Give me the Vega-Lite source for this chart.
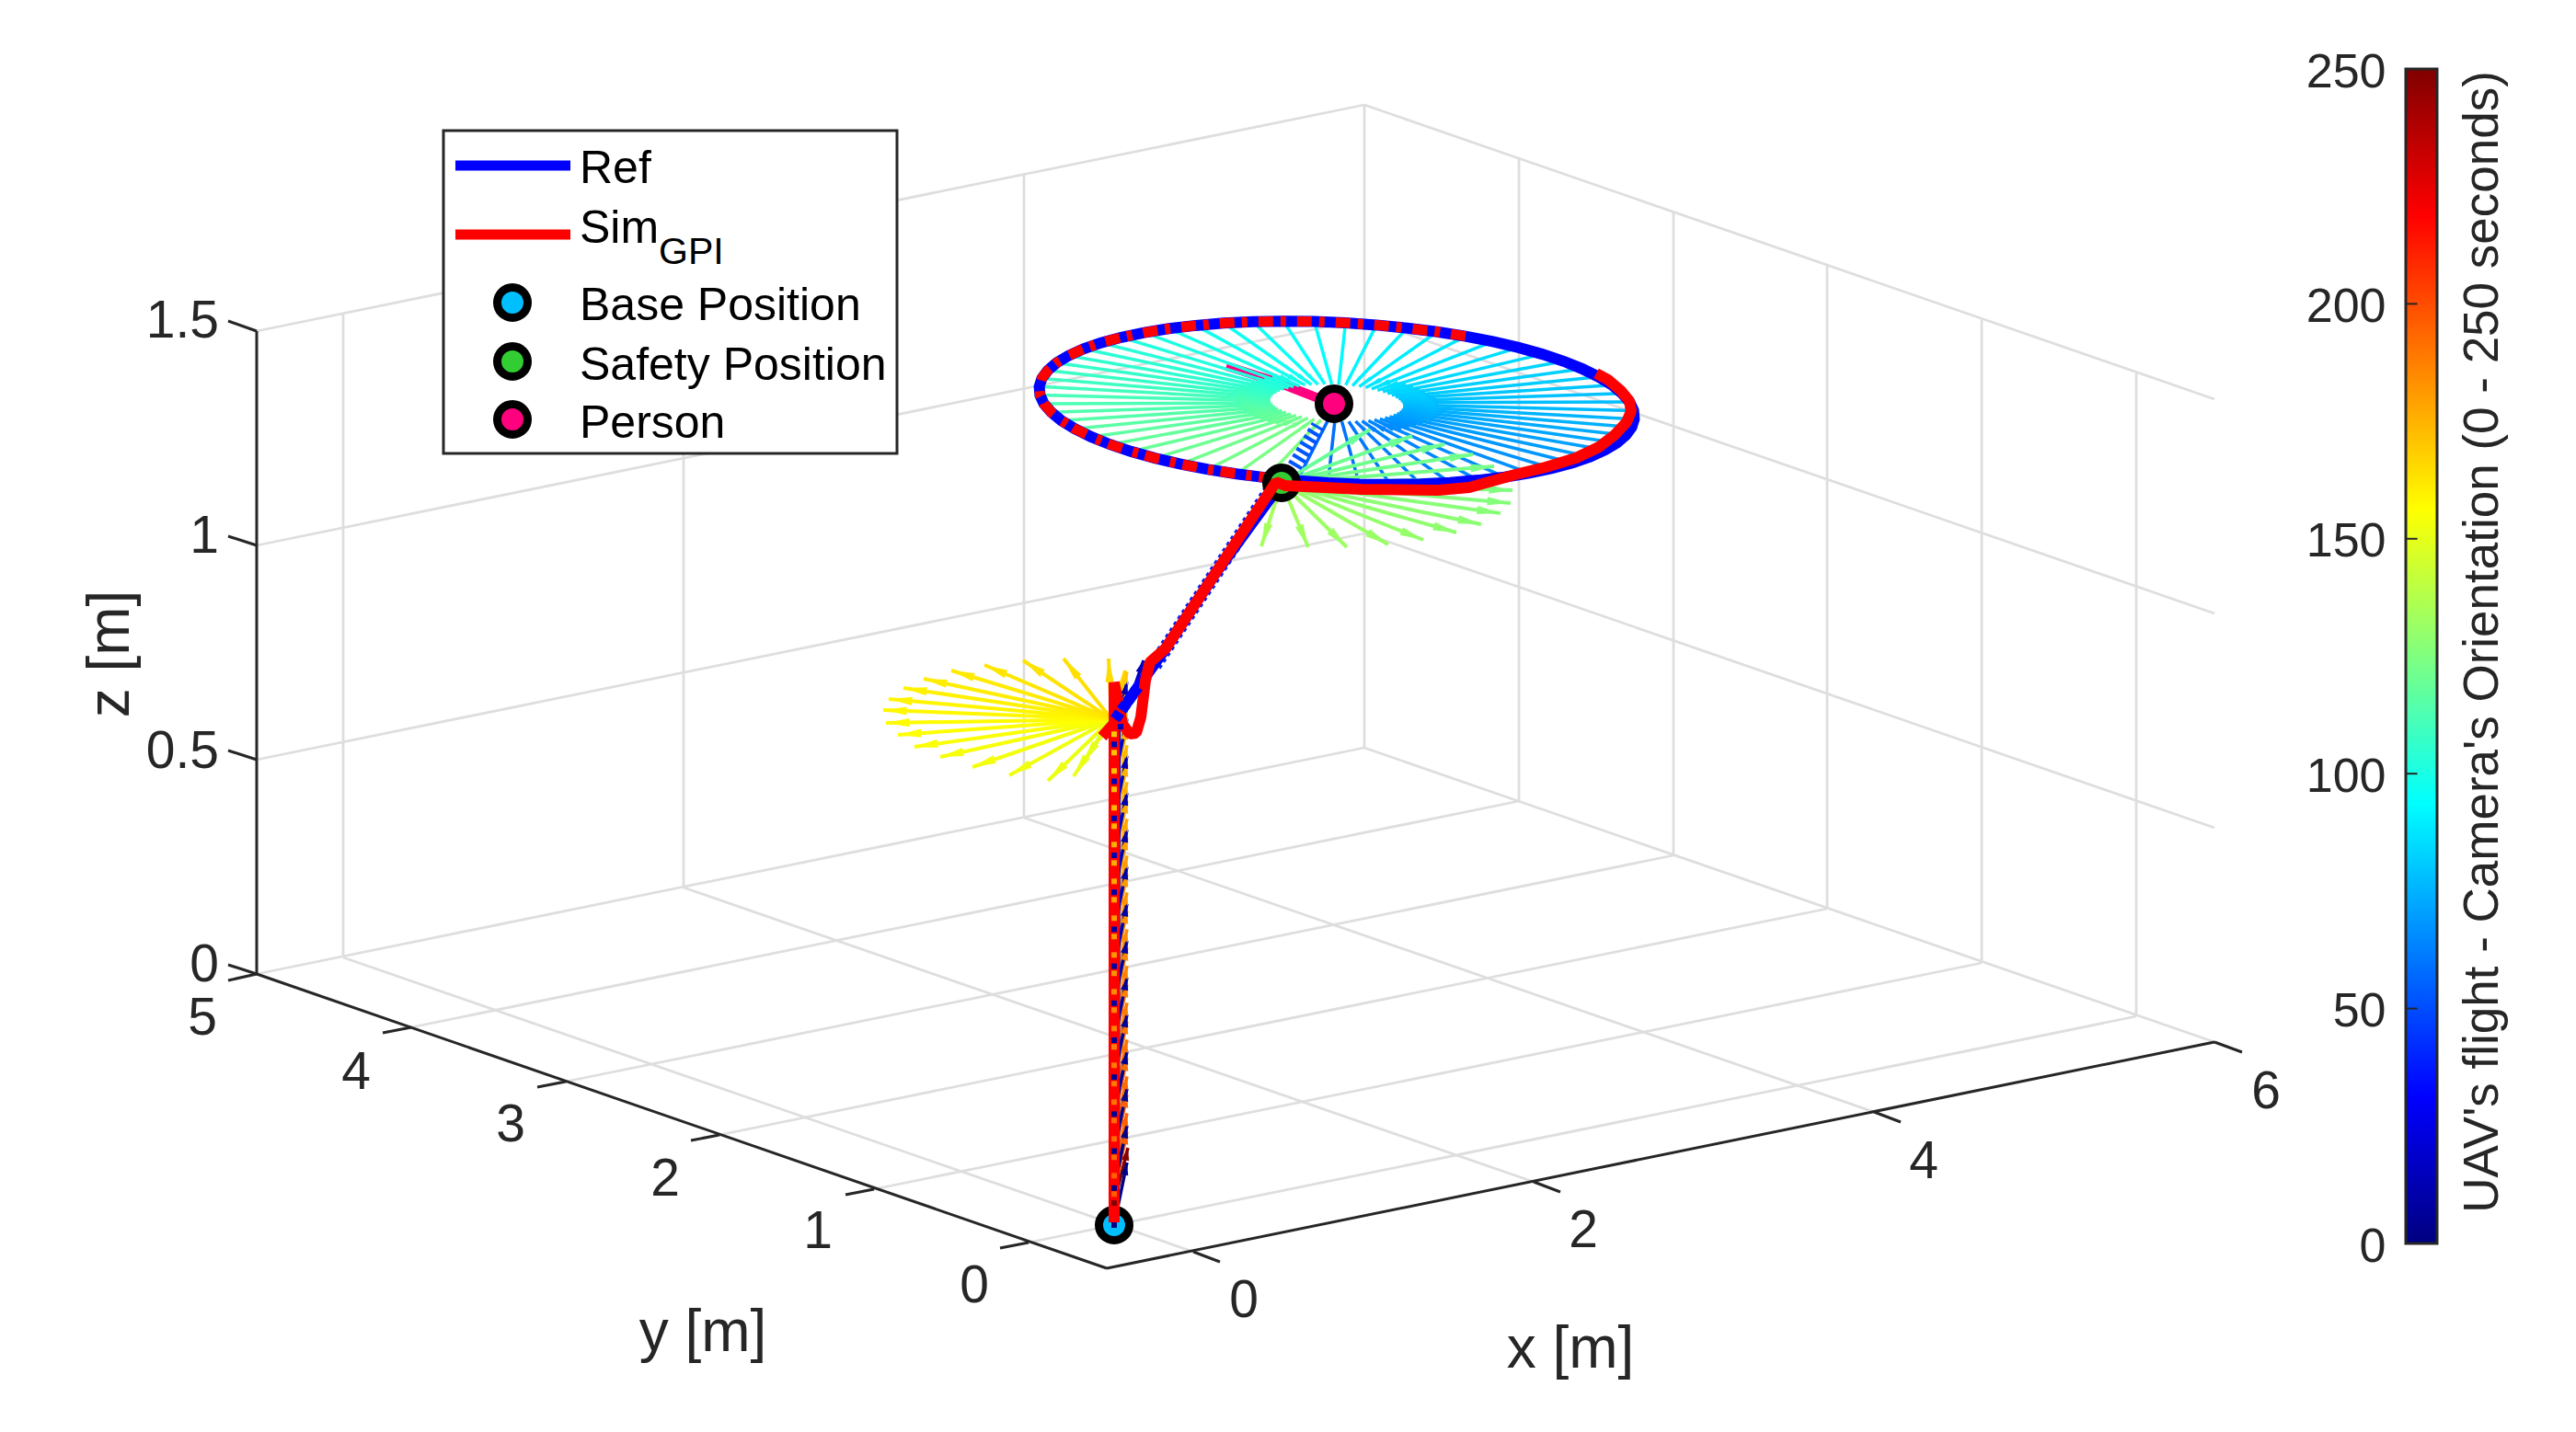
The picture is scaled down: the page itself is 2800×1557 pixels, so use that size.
{"$schema":"https://vega.github.io/schema/vega-lite/v6.json","width":2800,"height":1557,"padding":0,"autosize":{"type":"none"},"background":"white","config":{"view":{"stroke":null}},
"datasets":{
"grid":[{"u":1297,"v":1361,"u2":373,"v2":1041},{"u":1667,"v":1285,"u2":743,"v2":965},{"u":2037,"v":1209,"u2":1113,"v2":889},{"u":1118,"v":1351,"u2":2322,"v2":1105},{"u":950,"v":1293,"u2":2154,"v2":1047},{"u":782,"v":1234,"u2":1986,"v2":988},{"u":615,"v":1176,"u2":1819,"v2":930},{"u":447,"v":1117,"u2":1651,"v2":871},{"u":279,"v":1059,"u2":1483,"v2":813},{"u":1483,"v":813,"u2":2407,"v2":1133},{"u":279,"v":826,"u2":1483,"v2":580},{"u":1483,"v":580,"u2":2407,"v2":900},{"u":279,"v":593,"u2":1483,"v2":347},{"u":1483,"v":347,"u2":2407,"v2":667},{"u":279,"v":360,"u2":1483,"v2":114},{"u":1483,"v":114,"u2":2407,"v2":434},{"u":373,"v":1041,"u2":373,"v2":342},{"u":743,"v":965,"u2":743,"v2":266},{"u":1113,"v":889,"u2":1113,"v2":190},{"u":1483,"v":813,"u2":1483,"v2":114},{"u":1651,"v":871,"u2":1651,"v2":172},{"u":1819,"v":930,"u2":1819,"v2":231},{"u":1986,"v":988,"u2":1986,"v2":289},{"u":2154,"v":1047,"u2":2154,"v2":348},{"u":2322,"v":1105,"u2":2322,"v2":406}],
"axes":[{"u":1203,"v":1379,"u2":2407,"v2":1133},{"u":1203,"v":1379,"u2":279,"v2":1059},{"u":279,"v":1059,"u2":279,"v2":360},{"u":1297,"v":1361,"u2":1326,"v2":1372},{"u":1667,"v":1285,"u2":1696,"v2":1296},{"u":2037,"v":1209,"u2":2066,"v2":1220},{"u":2407,"v":1133,"u2":2437,"v2":1144},{"u":1118,"v":1351,"u2":1087,"v2":1357},{"u":950,"v":1293,"u2":919,"v2":1299},{"u":782,"v":1234,"u2":751,"v2":1240},{"u":615,"v":1176,"u2":584,"v2":1182},{"u":447,"v":1117,"u2":416,"v2":1123},{"u":279,"v":1059,"u2":248,"v2":1066},{"u":279,"v":1059,"u2":248,"v2":1049},{"u":279,"v":826,"u2":248,"v2":816},{"u":279,"v":593,"u2":248,"v2":583},{"u":279,"v":360,"u2":248,"v2":349}],
"labels":[{"text":"0","u":1352,"v":1415,"kind":"tick"},{"text":"2","u":1721,"v":1339,"kind":"tick"},{"text":"4","u":2091,"v":1264,"kind":"tick"},{"text":"6","u":2463,"v":1188,"kind":"tick"},{"text":"0","u":1059,"v":1399,"kind":"tick"},{"text":"1","u":889,"v":1340,"kind":"tick"},{"text":"2","u":723,"v":1283,"kind":"tick"},{"text":"3","u":555,"v":1224,"kind":"tick"},{"text":"4","u":387,"v":1167,"kind":"tick"},{"text":"5","u":220,"v":1108,"kind":"tick"},{"text":"0","u":238,"v":1050,"kind":"ztick"},{"text":"0.5","u":238,"v":818,"kind":"ztick"},{"text":"1","u":238,"v":584,"kind":"ztick"},{"text":"1.5","u":238,"v":350,"kind":"ztick"},{"text":"x [m]","u":1707,"v":1468,"kind":"title"},{"text":"y [m]","u":764,"v":1450,"kind":"title"},{"text":"z [m]","u":121,"v":711,"kind":"ztitle"},{"text":"UAV's flight - Camera's Orientation (0 - 250 seconds)","u":2715,"v":698,"kind":"cbtitle"},{"text":"Ref","u":630,"v":199,"kind":"legend"},{"text":"Sim","u":630,"v":264,"kind":"legend"},{"text":"GPI","u":716,"v":287,"kind":"sub"},{"text":"Base Position","u":630,"v":348,"kind":"legend"},{"text":"Safety Position","u":630,"v":413,"kind":"legend"},{"text":"Person","u":630,"v":476,"kind":"legend"}],
"personTrack":[{"k":0,"u":1333,"v":398},{"k":1,"u":1387,"v":415},{"k":2,"u":1433,"v":433}],
"markers":[{"name":"Base Position","u":1211,"v":1332,"place":"under"},{"name":"Safety Position","u":1393,"v":525,"place":"under"},{"name":"Person","u":1450,"v":439,"place":"over"},{"name":"Base Position","u":557,"v":329,"place":"legend"},{"name":"Safety Position","u":557,"v":393,"place":"legend"},{"name":"Person","u":557,"v":456,"place":"legend"}],
"legendBox":[{"u":482,"v":142,"u2":975,"v2":493}],
"legendLines":[{"series":"Ref","u":495,"v":180,"u2":620,"v2":180},{"series":"Sim GPI","u":495,"v":255,"u2":620,"v2":255}],
"ring":[
{"k":0,"u":1443.3,"v":457.3,"u2":1409.9,"v2":522.6,"t":57,"len":76,"angle":26.6},{"k":1,"u":1450.9,"v":457.8,"u2":1443.5,"v2":524.9,"t":58.2,"len":71,"angle":6.1},{"k":2,"u":1458.5,"v":458.2,"u2":1477.4,"v2":526.4,"t":59.3,"len":74,"angle":344.9},{"k":3,"u":1466,"v":458.2,"u2":1511,"v2":526.7,"t":60.5,"len":85,"angle":327.3},{"k":4,"u":1473.4,"v":458.1,"u2":1544,"v2":526.2,"t":61.6,"len":101,"angle":314.6},{"k":5,"u":1480.5,"v":457.8,"u2":1576,"v2":524.7,"t":62.8,"len":120,"angle":305.7},{"k":6,"u":1487.4,"v":457.2,"u2":1606.4,"v2":522.1,"t":63.9,"len":140,"angle":299.2},{"k":7,"u":1493.9,"v":456.4,"u2":1635.5,"v2":518.7,"t":65.1,"len":159,"angle":294.2},{"k":8,"u":1499.9,"v":455.4,"u2":1662.3,"v2":514.3,"t":66.2,"len":177,"angle":290.4},{"k":9,"u":1505.4,"v":454.2,"u2":1687.1,"v2":509.2,"t":67.4,"len":195,"angle":287.2},
{"k":10,"u":1510.4,"v":452.9,"u2":1709.2,"v2":503.3,"t":68.5,"len":210,"angle":284.5},{"k":11,"u":1514.7,"v":451.4,"u2":1728.3,"v2":496.7,"t":69.7,"len":224,"angle":282.2},{"k":12,"u":1518.3,"v":449.7,"u2":1744.6,"v2":489.3,"t":70.8,"len":235,"angle":280.2},{"k":13,"u":1521.2,"v":447.9,"u2":1757.4,"v2":481.6,"t":72,"len":244,"angle":278.3},{"k":14,"u":1523.4,"v":446,"u2":1767.2,"v2":473.2,"t":73.1,"len":251,"angle":276.5},{"k":15,"u":1524.8,"v":444.1,"u2":1773.6,"v2":464.6,"t":74.3,"len":256,"angle":274.8},{"k":16,"u":1525.4,"v":442,"u2":1776.4,"v2":455.7,"t":75.4,"len":257,"angle":273.2},{"k":17,"u":1525.3,"v":439.9,"u2":1775.6,"v2":446.4,"t":76.6,"len":256,"angle":271.5},{"k":18,"u":1524.3,"v":437.8,"u2":1771.3,"v2":437.1,"t":77.7,"len":253,"angle":269.8},{"k":19,"u":1522.5,"v":435.7,"u2":1763.3,"v2":427.8,"t":78.9,"len":247,"angle":268.1},
{"k":20,"u":1520.1,"v":433.6,"u2":1752.3,"v2":418.7,"t":80,"len":238,"angle":266.2},{"k":21,"u":1516.8,"v":431.6,"u2":1737.7,"v2":409.8,"t":81.2,"len":227,"angle":264.2},{"k":22,"u":1512.8,"v":429.6,"u2":1720,"v2":401.1,"t":82.3,"len":214,"angle":262},{"k":23,"u":1508.2,"v":427.7,"u2":1699.6,"v2":392.8,"t":83.5,"len":199,"angle":259.4},{"k":24,"u":1503.1,"v":425.9,"u2":1676.4,"v2":385.1,"t":84.6,"len":182,"angle":256.5},{"k":25,"u":1497.3,"v":424.3,"u2":1650.6,"v2":377.9,"t":85.8,"len":164,"angle":252.8},{"k":26,"u":1491,"v":422.8,"u2":1622.7,"v2":371.4,"t":86.9,"len":145,"angle":248.2},{"k":27,"u":1484.4,"v":421.5,"u2":1592.9,"v2":365.6,"t":88.1,"len":126,"angle":242.2},{"k":28,"u":1477.4,"v":420.4,"u2":1562,"v2":360.8,"t":89.2,"len":107,"angle":234.2},{"k":29,"u":1470.1,"v":419.5,"u2":1529.5,"v2":356.7,"t":90.4,"len":89,"angle":222.7},
{"k":30,"u":1462.7,"v":418.7,"u2":1496.1,"v2":353.4,"t":91.5,"len":76,"angle":206.6},{"k":31,"u":1455.1,"v":418.2,"u2":1462.5,"v2":351.1,"t":92.7,"len":71,"angle":186.1},{"k":32,"u":1447.5,"v":417.8,"u2":1428.6,"v2":349.6,"t":93.8,"len":74,"angle":164.9},{"k":33,"u":1440,"v":417.8,"u2":1395,"v2":349.3,"t":95,"len":85,"angle":147.3},{"k":34,"u":1432.6,"v":417.9,"u2":1362,"v2":349.8,"t":96.1,"len":101,"angle":134.6},{"k":35,"u":1425.5,"v":418.2,"u2":1330,"v2":351.3,"t":97.3,"len":120,"angle":125.7},{"k":36,"u":1418.6,"v":418.8,"u2":1299.6,"v2":353.9,"t":98.4,"len":140,"angle":119.2},{"k":37,"u":1412.1,"v":419.6,"u2":1270.5,"v2":357.3,"t":99.6,"len":159,"angle":114.2},{"k":38,"u":1406.1,"v":420.6,"u2":1243.7,"v2":361.7,"t":100.7,"len":177,"angle":110.4},{"k":39,"u":1400.6,"v":421.8,"u2":1218.9,"v2":366.8,"t":101.9,"len":195,"angle":107.2},
{"k":40,"u":1395.6,"v":423.1,"u2":1196.8,"v2":372.7,"t":103,"len":210,"angle":104.5},{"k":41,"u":1391.3,"v":424.6,"u2":1177.7,"v2":379.3,"t":104.2,"len":224,"angle":102.2},{"k":42,"u":1387.7,"v":426.3,"u2":1161.4,"v2":386.7,"t":105.3,"len":235,"angle":100.2},{"k":43,"u":1384.8,"v":428.1,"u2":1148.6,"v2":394.4,"t":106.5,"len":244,"angle":98.3},{"k":44,"u":1382.6,"v":430,"u2":1138.8,"v2":402.8,"t":107.6,"len":251,"angle":96.5},{"k":45,"u":1381.2,"v":431.9,"u2":1132.4,"v2":411.4,"t":108.8,"len":256,"angle":94.8},{"k":46,"u":1380.6,"v":434,"u2":1129.6,"v2":420.3,"t":109.9,"len":257,"angle":93.2},{"k":47,"u":1380.7,"v":436.1,"u2":1130.4,"v2":429.6,"t":111.1,"len":256,"angle":91.5},{"k":48,"u":1381.7,"v":438.2,"u2":1134.7,"v2":438.9,"t":112.2,"len":253,"angle":89.8},{"k":49,"u":1383.5,"v":440.3,"u2":1142.7,"v2":448.2,"t":113.4,"len":247,"angle":88.1},
{"k":50,"u":1385.9,"v":442.4,"u2":1153.7,"v2":457.3,"t":114.5,"len":238,"angle":86.2},{"k":51,"u":1389.2,"v":444.4,"u2":1168.3,"v2":466.2,"t":115.7,"len":227,"angle":84.2},{"k":52,"u":1393.2,"v":446.4,"u2":1186,"v2":474.9,"t":116.8,"len":214,"angle":82},{"k":53,"u":1397.8,"v":448.3,"u2":1206.4,"v2":483.2,"t":118,"len":199,"angle":79.4},{"k":54,"u":1402.9,"v":450.1,"u2":1229.6,"v2":490.9,"t":119.1,"len":182,"angle":76.5},{"k":55,"u":1408.7,"v":451.7,"u2":1255.4,"v2":498.1,"t":120.3,"len":164,"angle":72.8},{"k":56,"u":1415,"v":453.2,"u2":1283.3,"v2":504.6,"t":121.4,"len":145,"angle":68.2},{"k":57,"u":1421.6,"v":454.5,"u2":1313.1,"v2":510.4,"t":122.6,"len":126,"angle":62.2},{"k":58,"u":1428.6,"v":455.6,"u2":1344,"v2":515.2,"t":123.7,"len":107,"angle":54.2},{"k":59,"u":1435.9,"v":456.5,"u2":1376.5,"v2":519.3,"t":124.9,"len":89,"angle":42.7}],
"fan":[
{"u":1489,"v":467,"u2":1393,"v2":525,"t":119,"angle":58.9},{"u":1535,"v":474,"u2":1393,"v2":525,"t":120,"angle":70.2},{"u":1570,"v":483,"u2":1393,"v2":525,"t":121,"angle":76.7},{"u":1601,"v":494,"u2":1393,"v2":525,"t":122,"angle":81.5},{"u":1624,"v":507,"u2":1393,"v2":525,"t":123,"angle":85.5},{"u":1638,"v":520,"u2":1393,"v2":525,"t":124,"angle":88.8},{"u":1644,"v":533,"u2":1393,"v2":525,"t":125,"angle":91.8},{"u":1642,"v":547,"u2":1393,"v2":525,"t":126,"angle":95},{"u":1631,"v":558,"u2":1393,"v2":525,"t":127,"angle":97.9},{"u":1610,"v":570,"u2":1393,"v2":525,"t":128,"angle":101.7},{"u":1583,"v":579,"u2":1393,"v2":525,"t":129,"angle":105.9},{"u":1547,"v":587,"u2":1393,"v2":525,"t":130,"angle":111.9},{"u":1509,"v":592,"u2":1393,"v2":525,"t":131,"angle":120},{"u":1464,"v":595,"u2":1393,"v2":525,"t":132,"angle":134.6},{"u":1422,"v":595,"u2":1393,"v2":525,"t":133,"angle":157.5},{"u":1371,"v":594,"u2":1393,"v2":525,"t":134,"angle":197.7},
{"u":1195,"v":800,"u2":1208,"v2":782,"t":148,"angle":215.8},{"u":1187,"v":815,"u2":1208,"v2":782,"t":149,"angle":212.5},{"u":1177,"v":830,"u2":1208,"v2":782,"t":150,"angle":212.9},{"u":1167,"v":844,"u2":1208,"v2":782,"t":150.8,"angle":213.5},{"u":1139,"v":849,"u2":1208,"v2":782,"t":151.6,"angle":225.8},{"u":1097,"v":843,"u2":1208,"v2":782,"t":152.5,"angle":241.2},{"u":1057,"v":834,"u2":1208,"v2":782,"t":153.4,"angle":251},{"u":1022,"v":823,"u2":1208,"v2":782,"t":154.3,"angle":257.6},{"u":994,"v":812,"u2":1208,"v2":782,"t":155.2,"angle":262},{"u":976,"v":799,"u2":1208,"v2":782,"t":156,"angle":265.8},{"u":963,"v":786,"u2":1208,"v2":782,"t":157,"angle":269.1},{"u":960,"v":772,"u2":1208,"v2":782,"t":157.9,"angle":272.3},{"u":966,"v":760,"u2":1208,"v2":782,"t":158.8,"angle":275.2},{"u":982,"v":748,"u2":1208,"v2":782,"t":159.7,"angle":278.6},{"u":1004,"v":738,"u2":1208,"v2":782,"t":160.6,"angle":282.2},{"u":1034,"v":729,"u2":1208,"v2":782,"t":161.5,"angle":286.9},{"u":1070,"v":723,"u2":1208,"v2":782,"t":162.4,"angle":293.1},{"u":1112,"v":718,"u2":1208,"v2":782,"t":163.3,"angle":303.7},{"u":1156,"v":716,"u2":1208,"v2":782,"t":164.2,"angle":321.8},{"u":1205,"v":716,"u2":1208,"v2":782,"t":165.1,"angle":357.4},{"u":1223,"v":729,"u2":1208,"v2":782,"t":166,"angle":15.8}],
"stack":[
{"u":1226,"v":1248,"u2":1211,"v2":1308,"t":249,"angle":11.6},
{"u":1225,"v":1230.3,"u2":1211,"v2":1298.3,"t":196,"angle":11.6},{"u":1225,"v":1210.3,"u2":1211,"v2":1278.3,"t":195,"angle":11.6},{"u":1225,"v":1190.3,"u2":1211,"v2":1258.3,"t":193.9,"angle":11.6},{"u":1225,"v":1170.3,"u2":1211,"v2":1238.3,"t":192.9,"angle":11.6},{"u":1225,"v":1150.3,"u2":1211,"v2":1218.3,"t":191.8,"angle":11.6},{"u":1225,"v":1130.3,"u2":1211,"v2":1198.3,"t":190.8,"angle":11.6},{"u":1225,"v":1110.3,"u2":1211,"v2":1178.3,"t":189.7,"angle":11.6},{"u":1225,"v":1090.3,"u2":1211,"v2":1158.3,"t":188.7,"angle":11.6},{"u":1225,"v":1070.3,"u2":1211,"v2":1138.3,"t":187.6,"angle":11.6},{"u":1225,"v":1050.3,"u2":1211,"v2":1118.3,"t":186.6,"angle":11.6},{"u":1225,"v":1030.3,"u2":1211,"v2":1098.3,"t":185.5,"angle":11.6},{"u":1225,"v":1010.3,"u2":1211,"v2":1078.3,"t":184.5,"angle":11.6},{"u":1225,"v":990.3,"u2":1211,"v2":1058.3,"t":183.4,"angle":11.6},{"u":1225,"v":970.3,"u2":1211,"v2":1038.3,"t":182.4,"angle":11.6},{"u":1225,"v":950.3,"u2":1211,"v2":1018.3,"t":181.3,"angle":11.6},{"u":1225,"v":930.3,"u2":1211,"v2":998.3,"t":180.3,"angle":11.6},{"u":1225,"v":910.3,"u2":1211,"v2":978.3,"t":179.2,"angle":11.6},{"u":1225,"v":890.3,"u2":1211,"v2":958.3,"t":178.2,"angle":11.6},{"u":1225,"v":870.3,"u2":1211,"v2":938.3,"t":177.1,"angle":11.6},{"u":1225,"v":850.3,"u2":1211,"v2":918.3,"t":176.1,"angle":11.6},{"u":1225,"v":830.3,"u2":1211,"v2":898.3,"t":175,"angle":11.6},{"u":1225,"v":810.3,"u2":1211,"v2":878.3,"t":174,"angle":11.6},{"u":1225,"v":790.3,"u2":1211,"v2":858.3,"t":172.9,"angle":11.6},{"u":1225,"v":770.3,"u2":1211,"v2":838.3,"t":171.9,"angle":11.6},{"u":1225,"v":750.3,"u2":1211,"v2":818.3,"t":170.8,"angle":11.6},{"u":1225,"v":730.3,"u2":1211,"v2":798.3,"t":169.8,"angle":11.6},
{"u":1225,"v":1264,"u2":1211,"v2":1332,"t":1,"angle":11.6},{"u":1225,"v":1223.8,"u2":1211,"v2":1291.8,"t":2,"angle":11.6},{"u":1225,"v":1183.6,"u2":1211,"v2":1251.6,"t":3,"angle":11.6},{"u":1225,"v":1143.4,"u2":1211,"v2":1211.4,"t":4,"angle":11.6},{"u":1225,"v":1103.2,"u2":1211,"v2":1171.2,"t":5,"angle":11.6},{"u":1225,"v":1063,"u2":1211,"v2":1131,"t":6,"angle":11.6},{"u":1225,"v":1022.8,"u2":1211,"v2":1090.8,"t":7,"angle":11.6},{"u":1225,"v":982.6,"u2":1211,"v2":1050.6,"t":8,"angle":11.6},{"u":1225,"v":942.4,"u2":1211,"v2":1010.4,"t":9,"angle":11.6},{"u":1225,"v":902.2,"u2":1211,"v2":970.2,"t":10,"angle":11.6},{"u":1225,"v":862,"u2":1211,"v2":930,"t":11,"angle":11.6},{"u":1225,"v":821.8,"u2":1211,"v2":889.8,"t":12,"angle":11.6},{"u":1225,"v":781.6,"u2":1211,"v2":849.6,"t":13,"angle":11.6},{"u":1225,"v":741.4,"u2":1211,"v2":809.4,"t":14,"angle":11.6},{"u":1243,"v":718,"u2":1218,"v2":790,"t":15,"angle":19}],
"trains":[{"u":1255,"v":723,"u2":1387,"v2":524,"t":40},{"u":1407,"v":507,"u2":1433,"v2":463,"t":52}],
"ref":[{"k":-20,"u":1211,"v":1332},{"k":-19,"u":1212,"v":790},{"k":-18,"u":1212,"v":782},{"k":-17,"u":1237,"v":747},{"k":-16,"u":1267,"v":705},{"k":-15,"u":1320,"v":625},{"k":-14,"u":1393,"v":525},
{"k":0,"u":1409.9,"v":522.6},{"k":1,"u":1443.5,"v":524.9},{"k":2,"u":1477.4,"v":526.4},{"k":3,"u":1511,"v":526.7},{"k":4,"u":1544,"v":526.2},{"k":5,"u":1576,"v":524.7},{"k":6,"u":1606.4,"v":522.1},{"k":7,"u":1635.5,"v":518.7},{"k":8,"u":1662.3,"v":514.3},{"k":9,"u":1687.1,"v":509.2},{"k":10,"u":1709.2,"v":503.3},{"k":11,"u":1728.3,"v":496.7},{"k":12,"u":1744.6,"v":489.3},{"k":13,"u":1757.4,"v":481.6},{"k":14,"u":1767.2,"v":473.2},{"k":15,"u":1773.6,"v":464.6},{"k":16,"u":1776.4,"v":455.7},{"k":17,"u":1775.6,"v":446.4},{"k":18,"u":1771.3,"v":437.1},{"k":19,"u":1763.3,"v":427.8},{"k":20,"u":1752.3,"v":418.7},{"k":21,"u":1737.7,"v":409.8},{"k":22,"u":1720,"v":401.1},{"k":23,"u":1699.6,"v":392.8},{"k":24,"u":1676.4,"v":385.1},{"k":25,"u":1650.6,"v":377.9},{"k":26,"u":1622.7,"v":371.4},{"k":27,"u":1592.9,"v":365.6},{"k":28,"u":1562,"v":360.8},{"k":29,"u":1529.5,"v":356.7},{"k":30,"u":1496.1,"v":353.4},{"k":31,"u":1462.5,"v":351.1},{"k":32,"u":1428.6,"v":349.6},{"k":33,"u":1395,"v":349.3},{"k":34,"u":1362,"v":349.8},{"k":35,"u":1330,"v":351.3},{"k":36,"u":1299.6,"v":353.9},{"k":37,"u":1270.5,"v":357.3},{"k":38,"u":1243.7,"v":361.7},{"k":39,"u":1218.9,"v":366.8},{"k":40,"u":1196.8,"v":372.7},{"k":41,"u":1177.7,"v":379.3},{"k":42,"u":1161.4,"v":386.7},{"k":43,"u":1148.6,"v":394.4},{"k":44,"u":1138.8,"v":402.8},{"k":45,"u":1132.4,"v":411.4},{"k":46,"u":1129.6,"v":420.3},{"k":47,"u":1130.4,"v":429.6},{"k":48,"u":1134.7,"v":438.9},{"k":49,"u":1142.7,"v":448.2},{"k":50,"u":1153.7,"v":457.3},{"k":51,"u":1168.3,"v":466.2},{"k":52,"u":1186,"v":474.9},{"k":53,"u":1206.4,"v":483.2},{"k":54,"u":1229.6,"v":490.9},{"k":55,"u":1255.4,"v":498.1},{"k":56,"u":1283.3,"v":504.6},{"k":57,"u":1313.1,"v":510.4},{"k":58,"u":1344,"v":515.2},{"k":59,"u":1376.5,"v":519.3},{"k":60,"u":1393,"v":523}],
"sim":[{"seg":"a","k":0,"u":1211,"v":1329},{"seg":"a","k":1,"u":1211,"v":742},{"seg":"a","k":2,"u":1220,"v":787},{"seg":"a","k":3,"u":1228,"v":798},{"seg":"a","k":4,"u":1235,"v":797},{"seg":"a","k":5,"u":1240,"v":780},{"seg":"a","k":6,"u":1245,"v":740},{"seg":"a","k":7,"u":1250,"v":720},{"seg":"a","k":8,"u":1267,"v":705},{"seg":"a","k":9,"u":1320,"v":625},{"seg":"a","k":10,"u":1387,"v":524},{"seg":"a","k":11,"u":1397,"v":528},{"seg":"a","k":12,"u":1480,"v":532},{"seg":"a","k":13,"u":1563,"v":533},{"seg":"a","k":14,"u":1597,"v":530},{"seg":"a","k":15,"u":1647,"v":516},{"seg":"a","k":16,"u":1680,"v":508},{"seg":"a","k":17,"u":1713,"v":498},{"seg":"a","k":18,"u":1738,"v":486},{"seg":"a","k":19,"u":1755,"v":473},{"seg":"a","k":20,"u":1768,"v":459},{"seg":"a","k":21,"u":1773,"v":447},{"seg":"a","k":22,"u":1771,"v":436},{"seg":"a","k":23,"u":1762,"v":425},{"seg":"a","k":24,"u":1748,"v":413},{"seg":"a","k":25,"u":1735,"v":406},{"seg":"b","k":0,"u":1198,"v":801},{"seg":"b","k":1,"u":1216,"v":781}],
"refTop":[{"u":1212,"v":782,"u2":1237,"v2":747}],
"colorbar":[{"from":0,"to":250,"left":0,"right":1}],
"cbTicks":[{"val":50,"left":0,"right":0.37},{"val":100,"left":0,"right":0.37},{"val":150,"left":0,"right":0.37},{"val":200,"left":0,"right":0.37}]
},
"layer":[
{"encoding":{"x":{"field":"u","type":"quantitative","scale":{"domain":[0,2800],"nice":false,"zero":false},"axis":null},"y":{"field":"v","type":"quantitative","scale":{"domain":[1557,0],"nice":false,"zero":false},"axis":null}},
"layer":[
{"data":{"name":"grid"},"mark":{"type":"rule","color":"#dedede","strokeWidth":2.8},"encoding":{"x2":{"field":"u2"},"y2":{"field":"v2"}}},
{"data":{"name":"axes"},"mark":{"type":"rule","color":"#262626","strokeWidth":3},"encoding":{"x2":{"field":"u2"},"y2":{"field":"v2"}}},
{"data":{"name":"labels"},"transform":[{"filter":"datum.kind=='tick'"}],"mark":{"type":"text","font":"Liberation Sans","fontSize":57,"color":"#262626","align":"center","baseline":"middle"},"encoding":{"text":{"field":"text"}}},
{"data":{"name":"labels"},"transform":[{"filter":"datum.kind=='ztick'"}],"mark":{"type":"text","font":"Liberation Sans","fontSize":57,"color":"#262626","align":"right","baseline":"middle"},"encoding":{"text":{"field":"text"}}},
{"data":{"name":"labels"},"transform":[{"filter":"datum.kind=='title'"}],"mark":{"type":"text","font":"Liberation Sans","fontSize":64,"color":"#262626","align":"center","baseline":"middle"},"encoding":{"text":{"field":"text"}}},
{"data":{"name":"labels"},"transform":[{"filter":"datum.kind=='ztitle'"}],"mark":{"type":"text","font":"Liberation Sans","fontSize":64,"color":"#262626","align":"center","baseline":"middle","angle":270},"encoding":{"text":{"field":"text"}}},
{"data":{"name":"labels"},"transform":[{"filter":"datum.kind=='cbtitle'"}],"mark":{"type":"text","font":"Liberation Sans","fontSize":53,"color":"#262626","align":"center","baseline":"alphabetic","angle":270},"encoding":{"text":{"field":"text"}}},
{"data":{"name":"personTrack"},"mark":{"type":"line","color":"#ff007f","strokeWidth":10},"encoding":{"order":{"field":"k"}}},
{"data":{"name":"ring"},"mark":{"type":"rule","strokeWidth":3.5},"encoding":{"x2":{"field":"u2"},"y2":{"field":"v2"},"color":{"field":"t","type":"quantitative","scale":{"domain":[0,31.25,93.75,156.25,218.75,250],"range":["#000080","#0000ff","#00ffff","#ffff00","#ff0000","#800000"],"interpolate":"rgb"},"legend":null}}},
{"data":{"name":"ring"},"mark":{"type":"point","filled":true,"opacity":1,"shape":"M0,0L-0.3,2L0.3,2Z"},"encoding":{"angle":{"field":"angle","type":"quantitative","scale":null},"size":{"field":"len","type":"quantitative","scale":{"type":"pow","exponent":2,"domain":[0,250],"range":[0,1296]},"legend":null},"color":{"field":"t","type":"quantitative","scale":{"domain":[0,31.25,93.75,156.25,218.75,250],"range":["#000080","#0000ff","#00ffff","#ffff00","#ff0000","#800000"],"interpolate":"rgb"},"legend":null}}},
{"data":{"name":"fan"},"mark":{"type":"rule","strokeWidth":4},"encoding":{"x2":{"field":"u2"},"y2":{"field":"v2"},"color":{"field":"t","type":"quantitative","scale":{"domain":[0,31.25,93.75,156.25,218.75,250],"range":["#000080","#0000ff","#00ffff","#ffff00","#ff0000","#800000"],"interpolate":"rgb"},"legend":null}}},
{"data":{"name":"fan"},"mark":{"type":"point","filled":true,"opacity":1,"size":650,"shape":"M0,0L-0.36,2L0.36,2Z"},"encoding":{"angle":{"field":"angle","type":"quantitative","scale":null},"color":{"field":"t","type":"quantitative","scale":{"domain":[0,31.25,93.75,156.25,218.75,250],"range":["#000080","#0000ff","#00ffff","#ffff00","#ff0000","#800000"],"interpolate":"rgb"},"legend":null}}},
{"data":{"name":"stack"},"mark":{"type":"rule","strokeWidth":3.5},"encoding":{"x2":{"field":"u2"},"y2":{"field":"v2"},"color":{"field":"t","type":"quantitative","scale":{"domain":[0,31.25,93.75,156.25,218.75,250],"range":["#000080","#0000ff","#00ffff","#ffff00","#ff0000","#800000"],"interpolate":"rgb"},"legend":null}}},
{"data":{"name":"stack"},"mark":{"type":"point","filled":true,"opacity":1,"size":190,"shape":"M0,0L-0.6,2L0.6,2Z"},"encoding":{"angle":{"field":"angle","type":"quantitative","scale":null},"color":{"field":"t","type":"quantitative","scale":{"domain":[0,31.25,93.75,156.25,218.75,250],"range":["#000080","#0000ff","#00ffff","#ffff00","#ff0000","#800000"],"interpolate":"rgb"},"legend":null}}},
{"data":{"name":"trains"},"mark":{"type":"rule","strokeWidth":16,"strokeDash":[4,4]},"encoding":{"x2":{"field":"u2"},"y2":{"field":"v2"},"color":{"field":"t","type":"quantitative","scale":{"domain":[0,31.25,93.75,156.25,218.75,250],"range":["#000080","#0000ff","#00ffff","#ffff00","#ff0000","#800000"],"interpolate":"rgb"},"legend":null}}},
{"data":{"name":"ref"},"mark":{"type":"line","color":"#0000ff","strokeWidth":12},"encoding":{"order":{"field":"k"}}},
{"data":{"name":"ref"},"transform":[{"filter":"datum.k>=27"}],"mark":{"type":"line","color":"#ff0000","strokeWidth":11,"strokeDash":[16,12,6,8]},"encoding":{"order":{"field":"k"}}},
{"data":{"name":"markers"},"transform":[{"filter":"datum.place=='under'"}],"mark":{"type":"point","shape":"circle","filled":true,"opacity":1,"size":1089,"stroke":"black","strokeWidth":9},"encoding":{"fill":{"field":"name","type":"nominal","scale":{"domain":["Base Position","Safety Position","Person"],"range":["#00bfff","#32cd32","#ff007f"]},"legend":null}}},
{"data":{"name":"sim"},"mark":{"type":"line","color":"#ff0000","strokeWidth":12,"strokeJoin":"bevel"},"encoding":{"order":{"field":"k"},"detail":{"field":"seg"}}},
{"data":{"name":"refTop"},"mark":{"type":"rule","color":"#0000ff","strokeWidth":12,"strokeDash":[9,3]},"encoding":{"x2":{"field":"u2"},"y2":{"field":"v2"}}},
{"data":{"name":"stack"},"mark":{"type":"point","shape":"square","filled":true,"opacity":1,"size":36},"encoding":{"x":{"field":"u2","type":"quantitative","scale":{"domain":[0,2800],"nice":false,"zero":false},"axis":null},"y":{"field":"v2","type":"quantitative","scale":{"domain":[1557,0],"nice":false,"zero":false},"axis":null},"color":{"field":"t","type":"quantitative","scale":{"domain":[0,31.25,93.75,156.25,218.75,250],"range":["#000080","#0000ff","#00ffff","#ffff00","#ff0000","#800000"],"interpolate":"rgb"},"legend":null}}},
{"data":{"name":"markers"},"transform":[{"filter":"datum.place=='over'"}],"mark":{"type":"point","shape":"circle","filled":true,"opacity":1,"size":1089,"stroke":"black","strokeWidth":9},"encoding":{"fill":{"field":"name","type":"nominal","scale":{"domain":["Base Position","Safety Position","Person"],"range":["#00bfff","#32cd32","#ff007f"]},"legend":null}}},
{"data":{"name":"legendBox"},"mark":{"type":"rect","fill":"white","stroke":"#262626","strokeWidth":3},"encoding":{"x2":{"field":"u2"},"y2":{"field":"v2"}}},
{"data":{"name":"legendLines"},"mark":{"type":"rule","strokeWidth":11},"encoding":{"x2":{"field":"u2"},"stroke":{"field":"series","type":"nominal","scale":{"domain":["Ref","Sim GPI"],"range":["#0000ff","#ff0000"]},"legend":null}}},
{"data":{"name":"markers"},"transform":[{"filter":"datum.place=='legend'"}],"mark":{"type":"point","shape":"circle","filled":true,"opacity":1,"size":1089,"stroke":"black","strokeWidth":9},"encoding":{"fill":{"field":"name","type":"nominal","scale":{"domain":["Base Position","Safety Position","Person"],"range":["#00bfff","#32cd32","#ff007f"]},"legend":null}}},
{"data":{"name":"labels"},"transform":[{"filter":"datum.kind=='legend'"}],"mark":{"type":"text","font":"Liberation Sans","fontSize":50,"color":"black","align":"left","baseline":"alphabetic"},"encoding":{"text":{"field":"text"}}},
{"data":{"name":"labels"},"transform":[{"filter":"datum.kind=='sub'"}],"mark":{"type":"text","font":"Liberation Sans","fontSize":41,"color":"black","align":"left","baseline":"alphabetic"},"encoding":{"text":{"field":"text"}}}
]},
{"layer":[
{"data":{"name":"colorbar"},"mark":{"type":"rect","fill":{"gradient":"linear","x1":0,"y1":1,"x2":0,"y2":0,"stops":[{"offset":0,"color":"#000080"},{"offset":0.125,"color":"#0000ff"},{"offset":0.375,"color":"#00ffff"},{"offset":0.625,"color":"#ffff00"},{"offset":0.875,"color":"#ff0000"},{"offset":1,"color":"#800000"}]},"stroke":"#262626","strokeWidth":3},"encoding":{"x":{"field":"left","type":"quantitative","scale":{"domain":[0,1],"range":[2615,2649]},"axis":null},"x2":{"field":"right"},"y":{"field":"from","type":"quantitative","scale":{"domain":[0,250],"range":[1352,75]},"axis":{"orient":"left","offset":-2613,"values":[0,50,100,150,200,250],"title":null,"grid":false,"domain":false,"ticks":false,"labelFont":"Liberation Sans","labelFontSize":52,"labelColor":"#262626","labelPadding":20,"labelOffset":3}},"y2":{"field":"to"}}},
{"data":{"name":"cbTicks"},"mark":{"type":"rule","color":"#262626","strokeWidth":2},"encoding":{"x":{"field":"left","type":"quantitative","scale":{"domain":[0,1],"range":[2615,2649]},"axis":null},"x2":{"field":"right"},"y":{"field":"val","type":"quantitative","scale":{"domain":[0,250],"range":[1352,75]}}}}
]}
],
"resolve":{"scale":{"x":"independent","y":"independent"}}
}
